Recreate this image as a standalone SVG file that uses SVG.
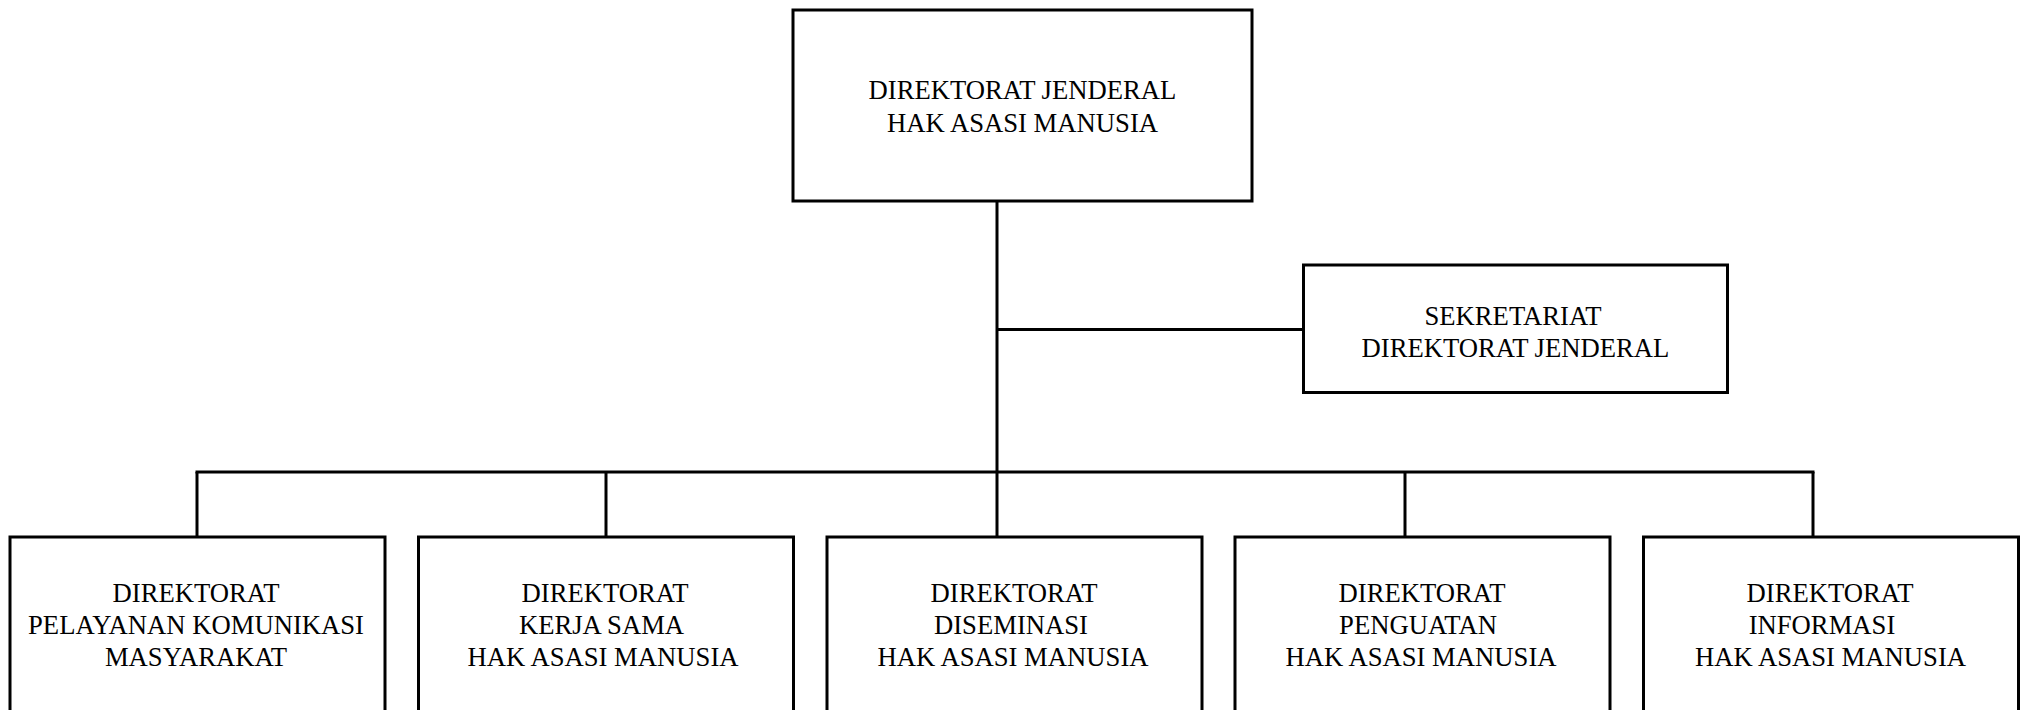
<svg xmlns="http://www.w3.org/2000/svg" width="2021" height="710" viewBox="0 0 2021 710">
  <style>
    .box { fill: #ffffff; stroke: #000000; stroke-width: 3; }
    .link { fill: none; stroke: #000000; stroke-width: 3; stroke-linecap: butt; }
    .label { font-family: "Liberation Serif", "Times New Roman", serif; font-size: 26.67px; fill: #000000; text-anchor: middle; }
  </style>
  <rect x="0" y="0" width="2021" height="710" fill="#ffffff"/>

  <!-- connectors -->
  <g id="connectors">
    <line class="link" x1="997" y1="201" x2="997" y2="537"/>
    <line class="link" x1="997" y1="329.5" x2="1303.5" y2="329.5"/>
    <line class="link" x1="195.5" y1="472" x2="1814.5" y2="472"/>
    <line class="link" x1="197" y1="472" x2="197" y2="537"/>
    <line class="link" x1="606" y1="472" x2="606" y2="537"/>
    <line class="link" x1="1405" y1="472" x2="1405" y2="537"/>
    <line class="link" x1="1813" y1="472" x2="1813" y2="537"/>
  </g>

  <!-- head office -->
  <g id="dirjen">
    <rect class="box" x="793" y="10" width="459" height="191"/>
    <text class="label" x="1022.5" y="99">DIREKTORAT JENDERAL</text>
    <text class="label" x="1022.5" y="132">HAK ASASI MANUSIA</text>
  </g>

  <!-- secretariat -->
  <g id="sekretariat">
    <rect class="box" x="1303.5" y="265" width="424" height="127.5"/>
    <text class="label" x="1513" y="325">SEKRETARIAT</text>
    <text class="label" x="1515.5" y="357">DIREKTORAT JENDERAL</text>
  </g>

  <!-- directorates -->
  <g id="dir-pelayanan">
    <rect class="box" x="10" y="537" width="375" height="190"/>
    <text class="label" x="196" y="601.5">DIREKTORAT</text>
    <text class="label" x="196" y="634">PELAYANAN KOMUNIKASI</text>
    <text class="label" x="196" y="666">MASYARAKAT</text>
  </g>

  <g id="dir-kerjasama">
    <rect class="box" x="418.5" y="537" width="375" height="190"/>
    <text class="label" x="605" y="601.5">DIREKTORAT</text>
    <text class="label" x="601.5" y="634">KERJA SAMA</text>
    <text class="label" x="603" y="666">HAK ASASI MANUSIA</text>
  </g>

  <g id="dir-diseminasi">
    <rect class="box" x="827" y="537" width="375" height="190"/>
    <text class="label" x="1014" y="601.5">DIREKTORAT</text>
    <text class="label" x="1011" y="634">DISEMINASI</text>
    <text class="label" x="1013" y="666">HAK ASASI MANUSIA</text>
  </g>

  <g id="dir-penguatan">
    <rect class="box" x="1235" y="537" width="375" height="190"/>
    <text class="label" x="1422" y="601.5">DIREKTORAT</text>
    <text class="label" x="1418" y="634">PENGUATAN</text>
    <text class="label" x="1421" y="666">HAK ASASI MANUSIA</text>
  </g>

  <g id="dir-informasi">
    <rect class="box" x="1643.5" y="537" width="375" height="190"/>
    <text class="label" x="1830" y="601.5">DIREKTORAT</text>
    <text class="label" x="1822" y="634">INFORMASI</text>
    <text class="label" x="1830.5" y="666">HAK ASASI MANUSIA</text>
  </g>
</svg>
